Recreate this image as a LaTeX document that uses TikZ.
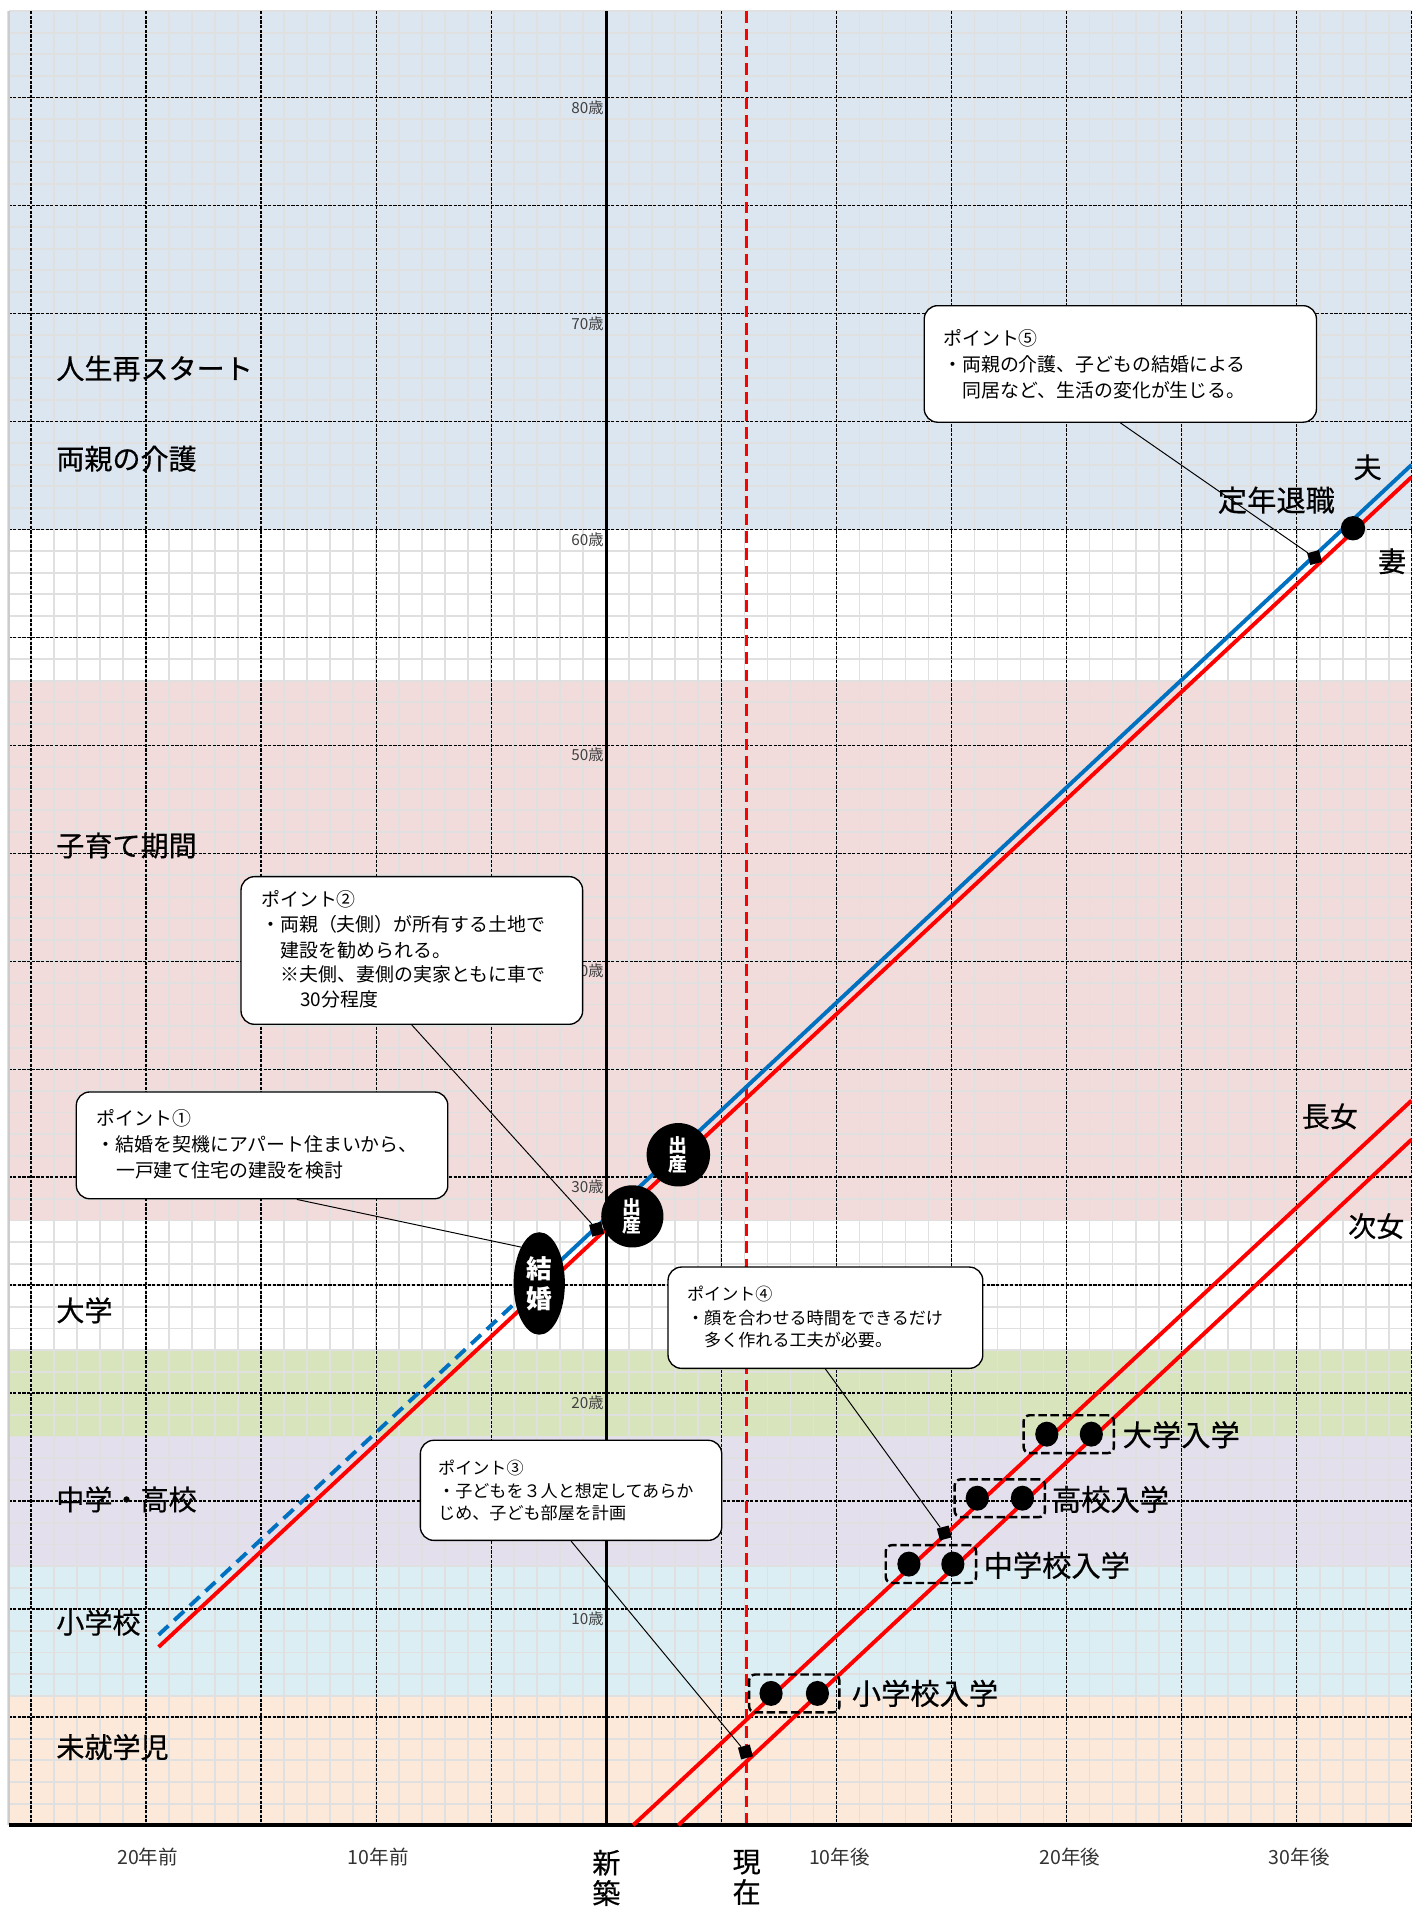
\documentclass[tikz,border=0pt]{standalone}
\usepackage{fontspec}
\setmainfont{Noto Sans CJK JP}
\newfontfamily\jpheavy[FakeBold=0.5]{Noto Sans CJK JP}
\usetikzlibrary{shapes.geometric}
\definecolor{bandblue}{HTML}{DCE6F1}
\definecolor{bandpink}{HTML}{F2DCDB}
\definecolor{bandgreen}{HTML}{D8E4BC}
\definecolor{bandlav}{HTML}{E4DFEC}
\definecolor{bandcyan}{HTML}{DAEEF3}
\definecolor{bandpeach}{HTML}{FDE9D9}
\definecolor{minorgrid}{HTML}{E0E0E0}
\definecolor{lineblue}{HTML}{0070C0}
\definecolor{linered}{HTML}{FF0000}
\definecolor{agegray}{HTML}{404040}
\newcommand{\fsz}[1]{\fontsize{#1}{#1}\selectfont}
\begin{document}
\begin{tikzpicture}[x=1pt,y=-1pt,
  minorline/.style={draw=minorgrid, line width=1.5},
  majorline/.style={draw=black, line width=1.2, dash pattern=on 2.6 off 1.2},
  callout/.style={draw=black, line width=1.1, fill=white, rounded corners=11, inner sep=0, anchor=north west},
  ctxtA/.style={anchor=west, inner sep=0, font=\fsz{15.5}},
  ctxtB/.style={anchor=west, inner sep=0, font=\fsz{14}},
  pointer/.style={draw=black, line width=0.8},
  sq/.style={fill=black, minimum size=10, inner sep=0, rotate=15},
  kdot/.style={ellipse, fill=black, minimum width=19, minimum height=20.5, inner sep=0},
  pairbox/.style={draw=black, line width=2, dash pattern=on 7 off 3, rounded corners=5, minimum width=74, minimum height=31, inner sep=0},
  biglabel/.style={anchor=west, inner sep=0, font=\jpheavy\fsz{23}},
  agelabel/.style={anchor=east, inner sep=0, font=\fsz{12.5}, text=agegray},
  yearlabel/.style={inner sep=0, font=\fsz{16}, text=black!80},
  lifeline/.style={line width=3.2},
  blackevent/.style={fill=black, text=white, inner sep=0, align=center}
]
\useasboundingbox (0,0) rectangle (1157,1568);
\fill[white] (0,0) rectangle (1157,1568);
% bands
\fill[bandblue] (7,9.2) rectangle (1157,434.8);
\fill[bandpink] (7,557.9) rectangle (1157,1000.4);
\fill[bandgreen] (7,1106.6) rectangle (1157,1177.4);
\fill[bandlav] (7,1177.4) rectangle (1157,1283.6);
\fill[bandcyan] (7,1283.6) rectangle (1157,1389.8);
\fill[bandpeach] (7,1389.8) rectangle (1157,1496);
% minor grid
\foreach \k in {-26,...,35} \draw[minorline] ({497+18.86*\k},9.2) -- ({497+18.86*\k},1496);
\foreach \k in {1,...,84} \draw[minorline] (7,{1496-17.7*\k}) -- (1157,{1496-17.7*\k});
% major grid
\foreach \k in {-25,-20,...,35} \draw[majorline] ({497+18.86*\k},9.2) -- ({497+18.86*\k},1496);
\foreach \k in {5,10,...,80} \draw[majorline, line width=1.4] (7,{1496-17.7*\k}) -- (1157,{1496-17.7*\k});
\draw[black!20, line width=1.6] (7.5,9.2) -- (7.5,1496);
% age labels
\foreach \a in {10,20,...,80} \node[agelabel, name=age\a] at (495,{1496-17.7*\a+8}) {\a 歳};
% vertical reference lines
\draw[line width=2.4] (497,9.2) -- (497,1496);
\draw[linered, line width=2.2, dash pattern=on 9.5 off 4.7] (612,9.2) -- (612,1496);
\draw[line width=3.5] (7,1496) -- (1157,1496);
% parents
\draw[lineblue, lifeline, dash pattern=on 11 off 6.5] (130,1340) -- (442,1049.6);
\draw[lineblue, lifeline] (442,1049.6) -- (1157,381);
\draw[linered, lifeline] (130,1350) -- (1157,391);
% children
\draw[linered, lifeline] (519,1496) -- (1157,902);
\draw[linered, lifeline] (556,1496) -- (1157,934);
% callouts
\node[callout, minimum width=321.5, minimum height=95.5] (p5) at (757,250) {};
\node[ctxtA] (p5a) at (773,277.5) {ポイント⑤};
\node[ctxtA] (p5b) at (773,299) {・両親の介護、子どもの結婚による};
\node[ctxtA] (p5c) at (789,319.5) {同居など、生活の変化が生じる。};

\node[callout, minimum width=280, minimum height=121] (p2) at (197,718) {};
\node[ctxtA] (p2a) at (214,737) {ポイント②};
\node[ctxtA] (p2b) at (214,758) {・両親（夫側）が所有する土地で};
\node[ctxtA] (p2c) at (230,779) {建設を勧められる。};
\node[ctxtA] (p2d) at (230,799) {※夫側、妻側の実家ともに車で};
\node[ctxtA] (p2e) at (246,819) {30分程度};

\node[callout, minimum width=304.5, minimum height=87.5] (p1) at (62,894.5) {};
\node[ctxtA] (p1a) at (79,917) {ポイント①};
\node[ctxtA] (p1b) at (79,938) {・結婚を契機にアパート住まいから、};
\node[ctxtA] (p1c) at (95,959) {一戸建て住宅の建設を検討};

\node[callout, minimum width=258, minimum height=83] (p4) at (547,1038) {};
\node[ctxtB] (p4a) at (563,1061) {ポイント④};
\node[ctxtB] (p4b) at (563,1080) {・顔を合わせる時間をできるだけ};
\node[ctxtB] (p4c) at (577,1098.5) {多く作れる工夫が必要。};

\node[callout, minimum width=247, minimum height=82] (p3) at (344,1180) {};
\node[ctxtB] (p3a) at (359,1203) {ポイント③};
\node[ctxtB] (p3b) at (359,1222) {・子どもを３人と想定してあらか};
\node[ctxtB] (p3c) at (359,1240) {じめ、子ども部屋を計画};
% events
\node[blackevent, ellipse, minimum width=42, minimum height=84, font=\bfseries\fontsize{21}{24.6}\selectfont] (kekkon) at (442,1052) {結\\婚};
\node[blackevent, circle, minimum size=51, font=\bfseries\fontsize{15.5}{15.5}\selectfont] (birth1) at (518.3,997) {出\\産};
\node[blackevent, circle, minimum size=52, font=\bfseries\fontsize{15.5}{15.5}\selectfont] (birth2) at (556,946.5) {出\\産};
% markers
\node[sq] (s2) at (489,1007.5) {};
\node[sq] (s3) at (611,1436) {};
\node[sq] (s4) at (774,1256.5) {};
\node[sq] (s5) at (1077.5,457) {};
% pointers
\draw[pointer] (p5.south) -- (s5);
\draw[pointer] (p2.south) -- (s2);
\draw[pointer] ([xshift=28.5]p1.south) -- (kekkon.north west);
\draw[pointer] (p4.south) -- (s4);
\draw[pointer] (p3.south) -- (s3);
% retirement
\node[circle, fill=black, minimum size=20, inner sep=0] (retire) at (1109,433) {};
% children milestones
\node[pairbox] (b1) at (651,1388) {};
\node[kdot] (d1a) at (632,1388) {};
\node[kdot] (d1b) at (670,1388) {};
\node[pairbox] (b2) at (763,1282) {};
\node[kdot] (d2a) at (745,1282) {};
\node[kdot] (d2b) at (781,1282) {};
\node[pairbox] (b3) at (819.5,1228) {};
\node[kdot] (d3a) at (801,1228) {};
\node[kdot] (d3b) at (838,1228) {};
\node[pairbox] (b4) at (876,1175.5) {};
\node[kdot] (d4a) at (858,1175.5) {};
\node[kdot] (d4b) at (894.5,1175.5) {};
\node[biglabel, font=\jpheavy\fsz{24}] (l1) at (698,1388) {小学校入学};
\node[biglabel, font=\jpheavy\fsz{24}] (l2) at (806,1283) {中学校入学};
\node[biglabel, font=\jpheavy\fsz{24}] (l3) at (862,1229) {高校入学};
\node[biglabel, font=\jpheavy\fsz{24}] (l4) at (920,1176) {大学入学};
% stage labels
\node[biglabel] (g1) at (46,302) {人生再スタート};
\node[biglabel] (g2) at (46,376) {両親の介護};
\node[biglabel] (g3) at (46,693) {子育て期間};
\node[biglabel] (g4) at (46,1074) {大学};
\node[biglabel] (g5) at (46,1229) {中学・高校};
\node[biglabel] (g6) at (46,1330) {小学校};
\node[biglabel] (g7) at (46,1432) {未就学児};
% people labels
\node[inner sep=0, font=\jpheavy\fsz{23}] (husband) at (1121,383) {夫};
\node[biglabel, font=\jpheavy\fsz{24}] (teinen) at (998,410) {定年退職};
\node[inner sep=0, font=\jpheavy\fsz{23}] (wife) at (1141,460) {妻};
\node[inner sep=0, font=\jpheavy\fsz{23}] (daughter1) at (1090,915) {長女};
\node[inner sep=0, font=\jpheavy\fsz{23}] (daughter2) at (1128,1005) {次女};
% bottom axis labels
\node[yearlabel] (y1) at (121,1522) {20年前};
\node[yearlabel] (y2) at (310,1522) {10年前};
\node[yearlabel] (y3) at (688,1522) {10年後};
\node[yearlabel] (y4) at (877,1522) {20年後};
\node[yearlabel] (y5) at (1065,1522) {30年後};
\node[inner sep=0, anchor=north, align=center, font=\jpheavy\fontsize{23}{25}\selectfont] (shinchiku) at (497,1516) {新\\築};
\node[inner sep=0, anchor=north, align=center, font=\jpheavy\fontsize{23}{25}\selectfont] (genzai) at (612,1516) {現\\在};
\end{tikzpicture}
\end{document}
